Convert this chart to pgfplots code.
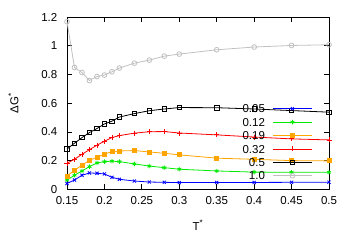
\documentclass[border=0pt]{standalone}
\usepackage{fontspec}
\setmainfont{Liberation Sans}
\usepackage{pgfplots}
\pgfplotsset{compat=1.18}
\definecolor{cgreen}{RGB}{0,235,0}
\definecolor{corange}{RGB}{255,165,0}
\definecolor{cgray}{RGB}{192,192,192}
\begin{document}
\begin{tikzpicture}[font=\fontsize{11.5bp}{13bp}\selectfont]
\path[use as bounding box] (0,0) rectangle (354bp,248bp);
\begin{axis}[
  at={(67bp,58.5bp)}, anchor=south west,
  scale only axis, width=262bp, height=172.5bp,
  xmin=0.15, xmax=0.5, ymin=0, ymax=1.2,
  xtick={0.15,0.2,0.25,0.3,0.35,0.4,0.45,0.5},
  ytick={0,0.2,0.4,0.6,0.8,1,1.2},
  /pgf/number format/assume math mode=true,
  /pgf/number format/fixed, /pgf/number format/precision=2,
  tick align=inside, major tick length=5bp,
  axis line style={line width=0.9bp}, every tick/.style={line width=0.9bp, black},
  xticklabel style={anchor=north, inner sep=0pt, yshift=-7.2bp},
  yticklabel style={anchor=east, inner sep=0pt, xshift=-9.5bp},
  every axis x label/.style={at={(axis description cs:0.5,-0.2348)}, anchor=base},
  every axis y label/.style={at={(axis description cs:-0.1859,0.5)}, rotate=90, anchor=base},
  xlabel={T\textsuperscript{*}},
  ylabel={ΔG\textsuperscript{*}},
  clip=false,
  legend style={draw=none, fill=none, inner sep=0pt, outer sep=0pt,
    at={(axis description cs:0.9363,0.5072)}, anchor=north east,
    column sep=7.6bp, row sep=0pt,
    nodes={inner sep=0pt, text height=10.8bp, text depth=2.6bp}},
  legend cell align=right, legend plot pos=right,
  legend image code/.code={\draw[mark repeat=2,mark phase=2] plot coordinates {(0bp,0bp) (19.5bp,0bp) (39bp,0bp)};},
  every axis plot/.append style={line width=0.8bp},
]
\addplot[blue, mark=x, mark size=2.2bp] coordinates {
(0.15,0.042) (0.16,0.066) (0.17,0.099) (0.18,0.115) (0.19,0.113) (0.20,0.108)
(0.21,0.085) (0.22,0.071) (0.24,0.059) (0.26,0.052) (0.28,0.050) (0.30,0.048)
(0.35,0.049) (0.40,0.049) (0.45,0.050) (0.50,0.051)};
\addlegendentry{0.05}
\addplot[cgreen, mark=asterisk, mark size=2.2bp] coordinates {
(0.15,0.066) (0.16,0.099) (0.17,0.129) (0.18,0.159) (0.19,0.185) (0.20,0.194)
(0.21,0.197) (0.22,0.194) (0.24,0.178) (0.26,0.163) (0.28,0.152) (0.30,0.141)
(0.35,0.129) (0.40,0.121) (0.45,0.120) (0.50,0.120)};
\addlegendentry{0.12}
\addplot[corange, mark=square*, mark size=2bp] coordinates {
(0.15,0.094) (0.16,0.134) (0.17,0.169) (0.18,0.203) (0.19,0.224) (0.20,0.247)
(0.21,0.263) (0.22,0.268) (0.24,0.271) (0.26,0.261) (0.28,0.252) (0.30,0.241)
(0.35,0.218) (0.40,0.210) (0.45,0.201) (0.50,0.199)};
\addlegendentry{0.19}
\addplot[red, mark=+, mark size=2.5bp] coordinates {
(0.15,0.183) (0.16,0.210) (0.17,0.245) (0.18,0.277) (0.19,0.308) (0.20,0.336)
(0.21,0.361) (0.22,0.375) (0.24,0.392) (0.26,0.402) (0.28,0.403) (0.30,0.393)
(0.35,0.380) (0.40,0.365) (0.45,0.352) (0.50,0.345)};
\addlegendentry{0.32}
\addplot[black, mark=square, mark size=2.2bp] coordinates {
(0.15,0.282) (0.16,0.322) (0.17,0.361) (0.18,0.396) (0.19,0.424) (0.20,0.456)
(0.21,0.475) (0.22,0.504) (0.24,0.528) (0.26,0.548) (0.28,0.560) (0.30,0.570)
(0.35,0.569) (0.40,0.560) (0.45,0.549) (0.50,0.538)};
\addlegendentry{0.5}
\addplot[cgray, mark=o, mark size=2.4bp] coordinates {
(0.15,1.167) (0.16,0.849) (0.17,0.814) (0.18,0.758) (0.19,0.786) (0.20,0.796)
(0.21,0.819) (0.22,0.845) (0.24,0.879) (0.26,0.900) (0.28,0.928) (0.30,0.942)
(0.35,0.972) (0.40,0.991) (0.45,1.002) (0.50,1.007)};
\addlegendentry{1.0}
\end{axis}
\end{tikzpicture}
\end{document}
